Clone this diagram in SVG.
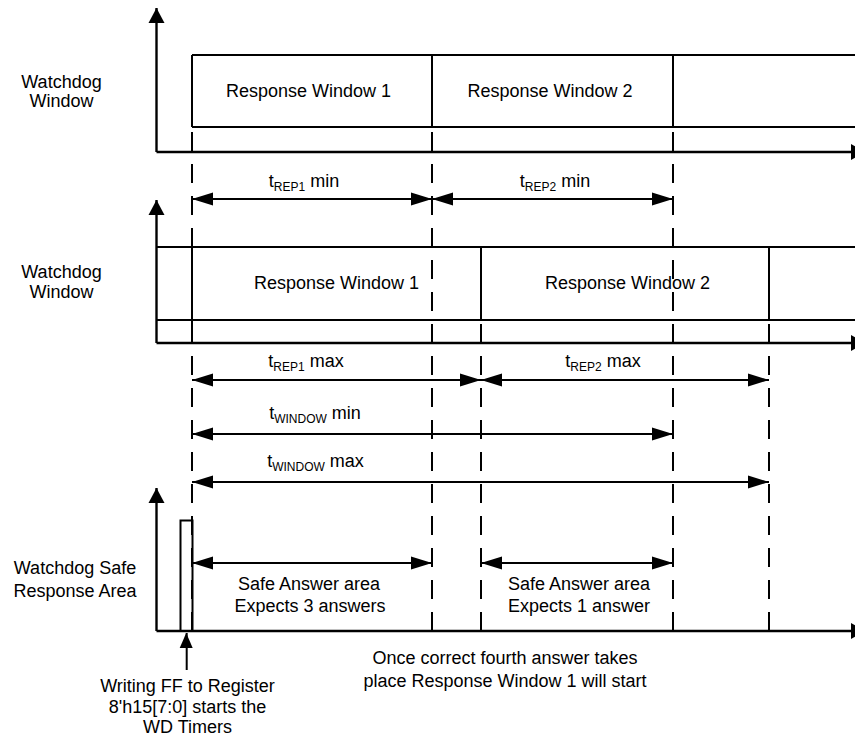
<svg xmlns="http://www.w3.org/2000/svg" width="855" height="738" viewBox="0 0 855 738">
<style>
.ln{stroke:#000;stroke-width:2;fill:none}
.ax{stroke:#000;stroke-width:2.4;fill:none}
.dsh{stroke:#000;stroke-width:2;fill:none;stroke-dasharray:19 13}
.dim{stroke:#000;stroke-width:2;fill:none;marker-start:url(#dh);marker-end:url(#dh)}
text{font-family:"Liberation Sans",Arial,sans-serif;font-size:18px;fill:#000}
.c{text-anchor:middle}
.sub{font-size:12px}
</style>
<defs>
<marker id="dh" markerUnits="userSpaceOnUse" markerWidth="21" markerHeight="14" refX="21" refY="7" orient="auto-start-reverse" overflow="visible">
<path d="M0,0.5 L21,7 L0,13.5 z" fill="#000"/>
</marker>
<marker id="ah" markerUnits="userSpaceOnUse" markerWidth="16" markerHeight="16" refX="15" refY="8" orient="auto" overflow="visible">
<path d="M0,0 L15,8 L0,16 z" fill="#000"/>
</marker>
<marker id="uh" markerUnits="userSpaceOnUse" markerWidth="14" markerHeight="14" refX="15" refY="7" orient="auto" overflow="visible">
<path d="M0,0 L15,6.5 L0,13 z" fill="#000"/>
</marker>
</defs>

<g id="axis1">
<path class="ax" d="M156.5,152 V8" marker-end="url(#ah)"/>
<path class="ax" d="M156.5,152 H866" marker-end="url(#ah)"/>
<text class="c" x="61.5" y="88">Watchdog</text>
<text class="c" x="61.5" y="107">Window</text>
</g>
<g id="row1-window">
<path class="ln" d="M192,55 H855 M192,127 H855 M192,55 V127 M432,55 V127 M673,55 V127"/>
<text class="c" x="308.5" y="97">Response Window 1</text>
<text class="c" x="550" y="97">Response Window 2</text>
</g>

<g id="axis2">
<path class="ax" d="M156.5,343 V200" marker-end="url(#ah)"/>
<path class="ax" d="M156.5,343 H866" marker-end="url(#ah)"/>
<text class="c" x="61.5" y="278">Watchdog</text>
<text class="c" x="61.5" y="298">Window</text>
</g>
<g id="row2-window">
<path class="ln" d="M156,247 H855 M156,320 H855 M192,228 V343 M481,247 V320 M769,247 V320"/>
<text class="c" x="336.5" y="289">Response Window 1</text>
<text class="c" x="627.5" y="289">Response Window 2</text>
</g>

<g id="axis3">
<path class="ax" d="M156.5,631 V488" marker-end="url(#ah)"/>
<path class="ax" d="M156.5,631 H866" marker-end="url(#ah)"/>
<text class="c" x="75" y="574">Watchdog Safe</text>
<text class="c" x="75" y="597">Response Area</text>
</g>
<g id="pulse">
<path class="ln" d="M180.5,631 V520.5 H192.5 V631"/>
</g>
<g id="safe-areas">
<text class="c" x="309" y="590">Safe Answer area</text>
<text class="c" x="310" y="612">Expects 3 answers</text>
<text class="c" x="579" y="590">Safe Answer area</text>
<text class="c" x="579" y="612">Expects 1 answer</text>
</g>

<g id="connectors">
<path class="dsh" d="M192,132 V631 M432,132 V631 M673,132 V631"/>
<path class="dsh" d="M481,324 V631 M769,324 V631"/>
<path class="dim" d="M192,199 H432"/>
<path class="dim" d="M432,199 H673"/>
<path class="dim" d="M192,380 H481"/>
<path class="dim" d="M481,380 H769"/>
<path class="dim" d="M192,434 H673"/>
<path class="dim" d="M192,482 H769"/>
<path class="dim" d="M192,563 H432"/>
<path class="dim" d="M481,563 H673"/>
<path class="ln" d="M186.7,670 V633" marker-end="url(#uh)"/>
</g>

<g id="dim-labels">
<text class="c" x="304" y="187">t<tspan class="sub" dy="4">REP1</tspan><tspan dy="-4"> min</tspan></text>
<text class="c" x="555" y="187">t<tspan class="sub" dy="4">REP2</tspan><tspan dy="-4"> min</tspan></text>
<text class="c" x="306" y="367">t<tspan class="sub" dy="4">REP1</tspan><tspan dy="-4"> max</tspan></text>
<text class="c" x="603" y="367">t<tspan class="sub" dy="4">REP2</tspan><tspan dy="-4"> max</tspan></text>
<text class="c" x="315" y="419">t<tspan class="sub" dy="4">WINDOW</tspan><tspan dy="-4"> min</tspan></text>
<text class="c" x="315.5" y="467">t<tspan class="sub" dy="4">WINDOW</tspan><tspan dy="-4"> max</tspan></text>
</g>

<g id="notes">
<text class="c" x="505" y="664">Once correct fourth answer takes</text>
<text class="c" x="505" y="687">place Response Window 1 will start</text>
<text class="c" x="187.5" y="692">Writing FF to Register</text>
<text class="c" x="187.5" y="713">8'h15[7:0] starts the</text>
<text class="c" x="187.5" y="733">WD Timers</text>
</g>
</svg>
